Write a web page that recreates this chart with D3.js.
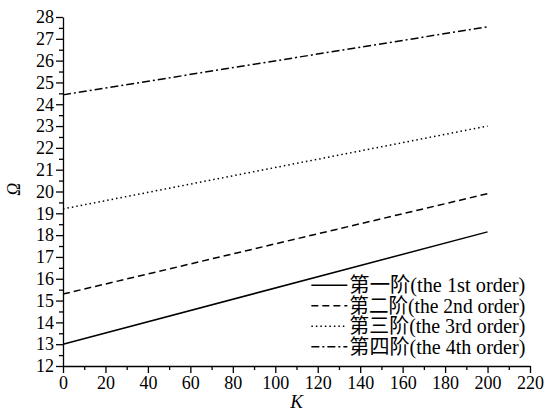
<!DOCTYPE html>
<html>
<head>
<meta charset="utf-8">
<script src="https://cdn.jsdelivr.net/npm/d3@7"></script>
<style>
    body { margin: 0; background: #fff; }
    text { font-family: "Liberation Serif", "Times New Roman", "Noto Sans CJK SC", serif; fill: #000; }
</style>
</head>
<body>
<div id="chart"></div>
<script>
// data
let kValues = [0, 200];
let order1 = [13.0, 18.15];
let order2 = [15.3, 19.9];
let order3 = [19.2, 23.0];
let order4 = [24.43, 27.55];
let seriesNames = ["第一阶(the 1st order)", "第二阶(the 2nd order)", "第三阶(the 3rd order)", "第四阶(the 4th order)"];
let xTicks = d3.range(0, 221, 20);
let yTicks = d3.range(12, 29, 1);

let margin = {top: 17, right: 17, bottom: 46, left: 63};
let width = 547 - margin.left - margin.right;
let height = 412 - margin.top - margin.bottom;

let svg = d3.select("#chart").append("svg")
    .attr("width", 547)
    .attr("height", 412)
    .append("g")
    .attr("transform", `translate(${margin.left}, ${margin.top})`);

let x = d3.scaleLinear().domain([0, 220]).range([0, width]);
let y = d3.scaleLinear().domain([12, 28]).range([height, 0]);

// minor ticks
svg.append("g")
    .attr("transform", `translate(0, ${height})`)
    .call(d3.axisBottom(x).tickValues(d3.range(10, 220, 20)).tickSize(4).tickFormat(""))
    .call(g => g.select(".domain").remove());
svg.append("g")
    .call(d3.axisLeft(y).tickValues(d3.range(12.5, 28, 1)).tickSize(4).tickFormat(""))
    .call(g => g.select(".domain").remove());

// major axes
let xAxisGroup = svg.append("g")
    .attr("transform", `translate(0, ${height})`)
    .call(d3.axisBottom(x).tickValues(xTicks).tickSize(7).tickSizeOuter(0).tickPadding(3));
let yAxisGroup = svg.append("g")
    .call(d3.axisLeft(y).tickValues(yTicks).tickSize(7).tickSizeOuter(0).tickPadding(2));

svg.selectAll(".tick text").attr("font-size", 18).style("font-family", "Liberation Serif");
svg.selectAll(".domain, .tick line").attr("stroke", "#000").attr("stroke-width", 1.3);

// axis titles
svg.append("text")
    .attr("x", x(110))
    .attr("y", height + 42)
    .attr("text-anchor", "middle")
    .attr("font-size", 19)
    .attr("font-style", "italic")
    .text("K");

svg.append("text")
    .attr("transform", `translate(-43, ${y(20.1)}) rotate(-90)`)
    .attr("text-anchor", "middle")
    .attr("font-size", 18)
    .attr("font-style", "italic")
    .text("Ω");

// lines
let styles = ["none", "7,4", "1.5,3", "8,3,2,3"];
let series = [order1, order2, order3, order4];

let line = d3.line()
    .x((d, i) => x(kValues[i]))
    .y(d => y(d));

svg.selectAll(".series")
    .data(series)
    .join("path")
    .attr("class", "series")
    .attr("d", d => line(d))
    .attr("fill", "none")
    .attr("stroke", "#000")
    .attr("stroke-width", 1.5)
    .attr("stroke-dasharray", (d, i) => styles[i]);

// legend
let legend = svg.append("g")
    .attr("transform", `translate(${x(117)}, ${y(15.7)})`);

seriesNames.forEach((name, i) => {
    let row = legend.append("g").attr("transform", `translate(0, ${i * 20.5})`);
    row.append("line")
        .attr("x1", 0).attr("x2", 36)
        .attr("stroke", "#000")
        .attr("stroke-width", 1.5)
        .attr("stroke-dasharray", styles[i]);
    row.append("text")
        .attr("x", 38)
        .attr("dy", "0.35em")
        .attr("font-size", 20)
        .attr("textLength", 176)
        .attr("lengthAdjust", "spacingAndGlyphs")
        .text(name);
});
</script>
</body>
</html>
